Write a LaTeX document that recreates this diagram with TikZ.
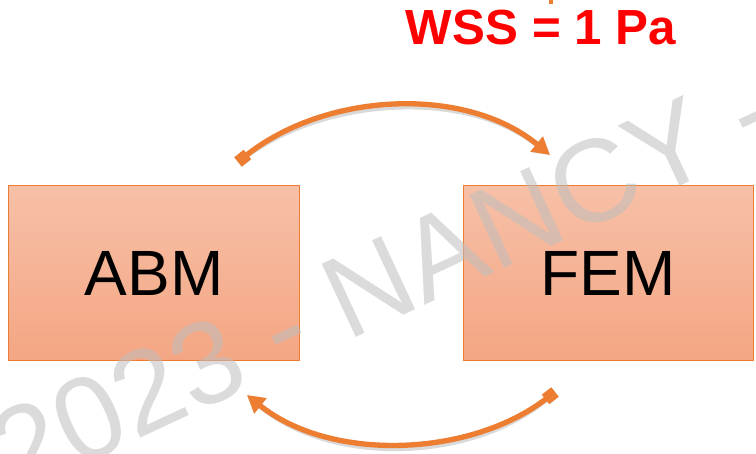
\documentclass[tikz,border=0pt]{standalone}
\usepackage{fontspec}
\setmainfont{Liberation Sans}
\usepackage{tikz}
\usetikzlibrary{arrows.meta,positioning,calc}

\definecolor{accent}{RGB}{237,125,49}
\definecolor{boxtop}{RGB}{247,192,167}
\definecolor{boxbottom}{RGB}{244,166,131}
\definecolor{markgray}{RGB}{190,190,190}

\begin{document}
\begin{tikzpicture}[
    x=0.75pt, y=-0.75pt,
    model/.style={
        rectangle, draw=accent, line width=0.8pt,
        top color=boxtop, bottom color=boxbottom,
        minimum width=218pt, minimum height=131pt,
        font=\fontsize{48}{56}\selectfont
    },
    flow/.style={accent, line width=4pt,
        {Square[length=9pt,width=9pt]}-{Triangle[length=13pt,width=14pt]}},
    flowshadow/.style={flow, draw=black, opacity=0.15, shift={(2,4)}},
    watermark/.style={text=markgray, opacity=0.55, inner sep=0pt,
        font=\fontsize{88}{100}\selectfont}
]
    \clip (0,0) rectangle (756,453);

    % Nodes
    \node[model] (abm) at (154,273) {ABM};
    \node[model, right=122pt of abm] (fem) {FEM};

    \node[inner sep=0pt, text=red, font=\fontsize{37}{44}\selectfont\bfseries]
        (wss) at (541,27.5) {WSS = 1 Pa};

    \node[watermark, rotate=25] (stamp) at (384,280) {2023 - NANCY -};

    % Connections
    \coordinate (abmOut) at (238,162);
    \coordinate (femIn) at (550,155);
    \coordinate (femOut) at (555,392);
    \coordinate (abmIn) at (247,395);
    \coordinate (cutTop) at (551,-8);
    \coordinate (cutEnd) at (551,4);

    \draw[flowshadow] (abmOut) .. controls (325,92) and (465,85) .. (femIn);
    \draw[flow] (abmOut) .. controls (325,92) and (465,85) .. (femIn);

    \draw[flowshadow] (femOut) .. controls (470,458) and (330,462) .. (abmIn);
    \draw[flow] (femOut) .. controls (470,458) and (330,462) .. (abmIn);

    \draw[accent, line width=3pt] (cutTop) -- (cutEnd);

\end{tikzpicture}
\end{document}
